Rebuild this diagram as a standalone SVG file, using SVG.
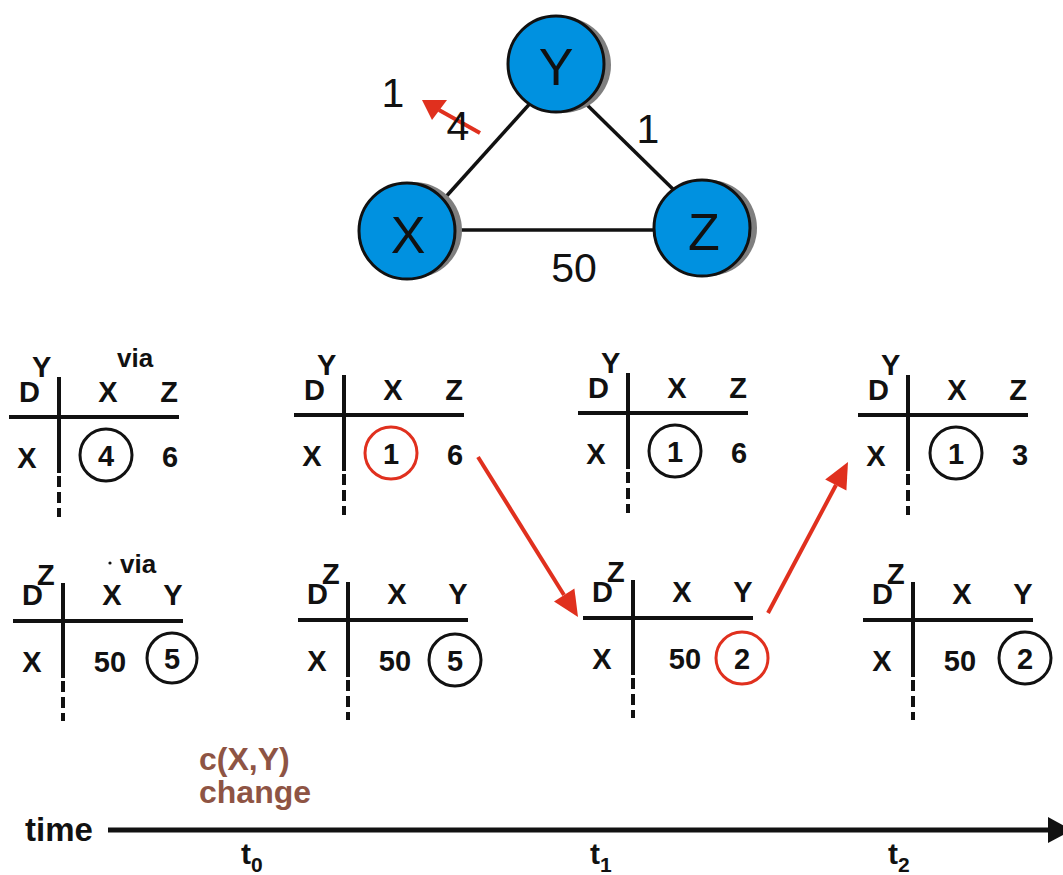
<svg xmlns="http://www.w3.org/2000/svg" width="1063" height="875" viewBox="0 0 1063 875">
<style>
text{font-family:"Liberation Sans",Arial,sans-serif}
.nl{font-size:52px;text-anchor:middle;fill:#111}
.el{font-size:41px;text-anchor:middle;fill:#111}
.t{font-size:29px;font-weight:bold;fill:#111}
.m{text-anchor:middle}
.ln{stroke:#111;stroke-width:4;fill:none}
.ds{stroke:#111;stroke-width:4;fill:none;stroke-dasharray:11,5}
.ck{fill:none;stroke:#111;stroke-width:3}
.cr{fill:none;stroke:#E0301E;stroke-width:3}
.node{fill:#0091E0;stroke:#111;stroke-width:3}
.sh{fill:#7f7f7f}
.edge{stroke:#111;stroke-width:3.5}
.red{stroke:#E0301E;stroke-width:4;fill:none}
.rh{fill:#E0301E}
.br{font-size:32px;font-weight:bold;fill:#8E5444}
</style>

<g id="connectors">
<line class="edge" x1="534" y1="99" x2="443" y2="200"/>
<line class="edge" x1="580" y1="98" x2="680" y2="196"/>
<line class="edge" x1="450" y1="230" x2="660" y2="230"/>
<line class="red" x1="480" y1="133" x2="439" y2="110"/>
<polygon class="rh" points="422,100 447,100 432,120"/>
<line class="red" x1="478" y1="457" x2="564" y2="595"/>
<polygon class="rh" points="578,617 554,601.4 574.4,588.6"/>
<line class="red" x1="768" y1="613" x2="836" y2="485"/>
<polygon class="rh" points="848,462 846.4,490.6 825.2,479.4"/>
</g>

<g id="node-Y">
<circle class="sh" cx="563" cy="65" r="48"/>
<circle class="node" cx="556" cy="64" r="48"/>
<text class="nl" x="556" y="85">Y</text>
</g>
<g id="node-X">
<circle class="sh" cx="414" cy="230" r="48"/>
<circle class="node" cx="407" cy="231" r="48"/>
<text class="nl" x="408" y="253">X</text>
</g>
<g id="node-Z">
<circle class="sh" cx="709" cy="228" r="48"/>
<circle class="node" cx="702" cy="228" r="48"/>
<text class="nl" x="704" y="250">Z</text>
</g>

<g id="edge-labels">
<text class="el" x="393" y="107">1</text>
<text class="el" x="458" y="140">4</text>
<text class="el" x="648" y="143">1</text>
<text class="el" x="574" y="282">50</text>
</g>

<g id="table-Y-t0" transform="translate(59,417)">
<path class="ln" d="M-50,0H120M0,-40V56"/><path class="ds" d="M0,59V100"/>
<text class="t" x="-40" y="-15">D</text><text class="t" x="-27" y="-40">Y</text>
<text class="t" x="58" y="-50" style="font-size:26px">via</text>
<text class="t m" x="49" y="-15">X</text><text class="t m" x="110" y="-15">Z</text>
<text class="t m" x="-32" y="51">X</text>
<circle class="ck" cx="47" cy="38" r="26"/>
<text class="t m" x="47" y="49">4</text><text class="t m" x="111" y="50">6</text>
</g>

<g id="table-Y-a" transform="translate(344,415)">
<path class="ln" d="M-50,0H120M0,-40V56"/><path class="ds" d="M0,59V100"/>
<text class="t" x="-40" y="-15">D</text><text class="t" x="-27" y="-40">Y</text>
<text class="t m" x="49" y="-15">X</text><text class="t m" x="110" y="-15">Z</text>
<text class="t m" x="-32" y="51">X</text>
<circle class="cr" cx="47" cy="38" r="26"/>
<text class="t m" x="47" y="49">1</text><text class="t m" x="111" y="50">6</text>
</g>

<g id="table-Y-t1" transform="translate(628,413)">
<path class="ln" d="M-50,0H120M0,-40V56"/><path class="ds" d="M0,59V100"/>
<text class="t" x="-40" y="-15">D</text><text class="t" x="-27" y="-40">Y</text>
<text class="t m" x="49" y="-15">X</text><text class="t m" x="110" y="-15">Z</text>
<text class="t m" x="-32" y="51">X</text>
<circle class="ck" cx="47" cy="38" r="26"/>
<text class="t m" x="47" y="49">1</text><text class="t m" x="111" y="50">6</text>
</g>

<g id="table-Y-t2" transform="translate(908,415)">
<path class="ln" d="M-50,0H120M0,-40V56"/><path class="ds" d="M0,59V100"/>
<text class="t" x="-40" y="-15">D</text><text class="t" x="-27" y="-40">Y</text>
<text class="t m" x="49" y="-15">X</text><text class="t m" x="110" y="-15">Z</text>
<text class="t m" x="-32" y="51">X</text>
<circle class="ck" cx="48" cy="38" r="26"/>
<text class="t m" x="48" y="49">1</text><text class="t m" x="112" y="50">3</text>
</g>

<g id="table-Z-t0" transform="translate(63,621)">
<path class="ln" d="M-50,0H120M0,-38V57"/><path class="ds" d="M0,60V100"/>
<text class="t" x="-41" y="-16">D</text><text class="t" x="-26" y="-36">Z</text>
<circle cx="47" cy="-58" r="1.6" fill="#111"/>
<text class="t" x="57" y="-48" style="font-size:26px">via</text>
<text class="t m" x="49" y="-16">X</text><text class="t m" x="110" y="-16">Y</text>
<text class="t m" x="-31" y="51">X</text>
<text class="t m" x="47" y="51">50</text>
<circle class="ck" cx="109" cy="37" r="25"/>
<text class="t m" x="109" y="48">5</text>
</g>

<g id="table-Z-a" transform="translate(348,620)">
<path class="ln" d="M-50,0H120M0,-38V57"/><path class="ds" d="M0,60V100"/>
<text class="t" x="-41" y="-16">D</text><text class="t" x="-26" y="-36">Z</text>
<text class="t m" x="49" y="-16">X</text><text class="t m" x="110" y="-16">Y</text>
<text class="t m" x="-31" y="51">X</text>
<text class="t m" x="47" y="51">50</text>
<circle class="ck" cx="107" cy="40" r="26"/>
<text class="t m" x="107" y="51">5</text>
</g>

<g id="table-Z-t1" transform="translate(633,618)">
<path class="ln" d="M-50,0H120M0,-38V57"/><path class="ds" d="M0,60V100"/>
<text class="t" x="-41" y="-16">D</text><text class="t" x="-26" y="-36">Z</text>
<text class="t m" x="49" y="-16">X</text><text class="t m" x="110" y="-16">Y</text>
<text class="t m" x="-31" y="51">X</text>
<text class="t m" x="52" y="51">50</text>
<circle class="cr" cx="109" cy="40" r="26"/>
<text class="t m" x="109" y="51">2</text>
</g>

<g id="table-Z-t2" transform="translate(913,620)">
<path class="ln" d="M-50,0H120M0,-38V57"/><path class="ds" d="M0,60V100"/>
<text class="t" x="-41" y="-16">D</text><text class="t" x="-26" y="-36">Z</text>
<text class="t m" x="49" y="-16">X</text><text class="t m" x="110" y="-16">Y</text>
<text class="t m" x="-31" y="51">X</text>
<text class="t m" x="47" y="51">50</text>
<circle class="ck" cx="112" cy="38" r="26"/>
<text class="t m" x="112" y="49">2</text>
</g>

<g id="change-label">
<text class="br" x="199" y="770">c(X,Y)</text>
<text class="br" x="199" y="803">change</text>
</g>

<g id="time-axis">
<line x1="108" y1="830" x2="1052" y2="830" stroke="#111" stroke-width="5"/>
<polygon points="1048,817 1072,830 1048,843" fill="#111"/>
<text class="t" x="25" y="841" style="font-size:33px">time</text>
<text class="t" x="241" y="864" style="font-size:30px">t<tspan dy="8" style="font-size:21px">0</tspan></text>
<text class="t" x="590" y="864" style="font-size:30px">t<tspan dy="8" style="font-size:21px">1</tspan></text>
<text class="t" x="888" y="864" style="font-size:30px">t<tspan dy="8" style="font-size:21px">2</tspan></text>
</g>
</svg>
